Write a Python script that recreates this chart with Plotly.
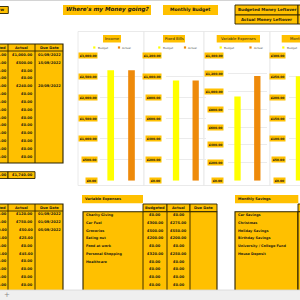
import plotly.graph_objects as go

# ---------------- data ----------------
categories = ["Budget", "Actual"]
income = [2640, 2640]
fixed_bills = [960, 960]
variable_expenses = [940, 1170]
monthly_savings = [250, 270]

income_ticks = [0, 500, 1000, 1500, 2000, 2500, 3000]
fixed_ticks = [0, 200, 400, 600, 800, 1000, 1200]
variable_ticks = [0, 200, 400, 600, 800, 1000, 1200, 1400]
savings_ticks = [0, 50, 100, 150, 200, 250, 300]

bills_budgeted = [1000, 500, 0, 0, 240, 0, 0, 0, 0, 0, 0, 0, 0, 0]
bills_actual = [1000, 500, 0, 0, 240, 0, 0, 0, 0, 0, 0, 0, 0, 0]
bills_due = ["01/09/2022", "15/09/2022", "", "", "20/09/2022", "", "", "", "", "", "", "", "", ""]

debts_budgeted = [120, 750, 50, 25, 0, 45, 0, 0, 0, 0]
debts_actual = [120, 750, 50, 25, 0, 45, 0, 0, 0, 0]
debts_due = ["01/09/2022", "01/09/2022", "05/09/2022", "", "", "", "", "", "", ""]

var_labels = ["Charity Giving", "Car Fuel", "Groceries", "Eating out", "Food at work",
              "Personal Shopping", "Healthcare", "", "", ""]
var_budgeted = [0, 300, 500, 200, 0, 320, 0, 0, 0, 0]
var_actual = [0, 275, 550, 200, 0, 250, 0, 0, 0, 0]

sav_labels = ["Car Savings", "Christmas", "Holiday Savings", "Birthday Savings",
              "University / College Fund", "House Deposit"]

# ---------------- style ----------------
W = H = 300
GOLD = "#FFC000"
YEL = "#FFFF00"
ORG = "#EE8A0A"
DARK = "#1e1a10"
BORDER = "#2a2200"
FONT = "DejaVu Sans"

shapes = []
anns = []


def money(v):
    return f"£{v:,.2f}"


def rect(x0, y0, x1, y1, fill=None, line=None, lw=0.9, layer="above"):
    shapes.append(dict(type="rect", xref="paper", yref="paper",
                       x0=x0 / W, x1=x1 / W, y0=1 - y1 / H, y1=1 - y0 / H,
                       fillcolor=fill or "rgba(0,0,0,0)",
                       line=dict(color=line or "rgba(0,0,0,0)", width=lw if line else 0),
                       layer=layer))


def seg(x0, y0, x1, y1, color=BORDER, lw=0.9, layer="above"):
    shapes.append(dict(type="line", xref="paper", yref="paper",
                       x0=x0 / W, x1=x1 / W, y0=1 - y0 / H, y1=1 - y1 / H,
                       line=dict(color=color, width=lw), layer=layer))


def txt(x, y, s, size, anchor="center", color=DARK, bold=True, italic=False):
    if bold:
        s = f"<b>{s}</b>"
    if italic:
        s = f"<i>{s}</i>"
    anns.append(dict(x=x / W, y=1 - y / H, xref="paper", yref="paper", text=s,
                     showarrow=False, xanchor=anchor, yanchor="middle",
                     font=dict(family=FONT, size=size, color=color), borderpad=0))


# ---------------- sheet background ----------------
seg(0, 0.5, 300, 0.5, "#d4d4d4", 1)

# top boxes
rect(-2, 6.5, 8.3, 13.5, GOLD, BORDER)
txt(5, 10, "Overview", 4.2, "right")
rect(63, 5, 151, 15, GOLD)
txt(107, 10, "Where's my Money going?", 5.6, "center", italic=True)
rect(163, 5, 218, 15, GOLD)
txt(190, 10, "Monthly Budget", 4.5)
rect(235, 5, 298, 15, GOLD, BORDER)
rect(235, 15, 298, 24, GOLD, BORDER)
rect(298, 5, 330, 15, GOLD, BORDER)
rect(298, 15, 330, 24, GOLD, BORDER)
txt(266.5, 10, "Budgeted Money Leftover", 4.0)
txt(266.5, 19.5, "Actual Money Leftover", 4.0)

# ---------------- left upper table ----------------
TS = 3.6
rect(-2, 44, 63, 163, GOLD, BORDER, 1.1)
seg(-2, 51, 63, 51)
seg(8, 44, 8, 163)
seg(35, 44, 35, 163)
txt(6.5, 47.7, "Budgeted", TS, "right")
txt(21.5, 47.7, "Actual", TS)
txt(49, 47.7, "Due Date", TS)
for i in range(len(bills_actual)):
    y = 55 + 7.82 * i
    txt(7.5, y, money(bills_budgeted[i]), TS, "right")
    txt(33.5, y, money(bills_actual[i]), TS, "right")
    if bills_due[i]:
        txt(62, y, bills_due[i], TS, "right")
rect(-2, 171.7, 8, 178.5, GOLD, BORDER)
rect(8, 171.7, 35, 178.5, GOLD, BORDER)
txt(7.5, 175.1, money(sum(bills_budgeted)), TS, "right")
txt(33.5, 175.1, money(sum(bills_actual)), TS, "right")

# ---------------- left lower table ----------------
rect(-2, 204, 63, 293, GOLD, BORDER, 1.1)
seg(-2, 211, 63, 211)
seg(8, 204, 8, 293)
seg(35, 204, 35, 293)
txt(6.5, 207.5, "Budgeted", TS, "right")
txt(21.5, 207.5, "Actual", TS)
txt(49, 207.5, "Due Date", TS)
for i in range(len(debts_actual)):
    y = 214.3 + 7.86 * i
    txt(7.5, y, money(debts_budgeted[i]), TS, "right")
    txt(33.5, y, money(debts_actual[i]), TS, "right")
    if debts_due[i]:
        txt(62, y, debts_due[i], TS, "right")

# ---------------- variable expenses table ----------------
rect(82, 195, 143, 203.3, GOLD)
txt(84, 199.2, "Variable Expenses", 3.5, "left")
for (a, b, lab) in [(143, 167, "Budgeted"), (167, 190, "Actual"), (190, 217, "Due Date")]:
    rect(a, 204, b, 211.7, GOLD, BORDER)
    txt((a + b) / 2, 207.9, lab, TS)
rect(83, 211.7, 217, 293, GOLD, BORDER, 1.1)
for xx in (143, 167, 190):
    seg(xx, 211.7, xx, 293)
for i in range(len(var_labels)):
    y = 215 + 7.78 * i
    if var_labels[i]:
        txt(85, y, var_labels[i], 3.4, "left")
    txt(155, y, money(var_budgeted[i]), TS)
    txt(178.5, y, money(var_actual[i]), TS)

# ---------------- monthly savings table ----------------
rect(235, 195, 298.3, 203.3, GOLD)
txt(237, 199.2, "Monthly Savings", 3.5, "left")
rect(298, 204, 330, 211.7, GOLD, BORDER)
rect(235, 211.7, 298, 293, GOLD, BORDER, 1.1)
rect(298, 211.7, 330, 293, GOLD, BORDER, 1.1)
for i, lab in enumerate(sav_labels):
    txt(237, 215 + 7.78 * i, lab, 3.4, "left")

# bottom sheet-tab bar
rect(-1, 290, 301, 301, "#efefef", "#d8d8d8", 0.8)
txt(7, 295, "+", 7, "center", color="#888888", bold=False)

# ---------------- charts ----------------
charts = [
    ("Income", income, income_ticks, (78, 144), (100.3, 141.9), 97.7, (103, 121), (94.3, 119)),
    ("Fixed Bills", fixed_bills, fixed_ticks, (144, 204), (166.2, 205.5), 161.7, (163, 185), (159.3, 185)),
    ("Variable Expenses", variable_expenses, variable_ticks, (204, 270), (227.6, 267.2), 224.0, (216.7, 260), (220.7, 250.5)),
    ("Monthly Savings", monthly_savings, savings_ticks, (270, 340), (289, 300), 286.0, (281.7, 330), (283.3, 309)),
]

fig = go.Figure()
layout_axes = {}
PLOT_TOP, PLOT_BOT = 55.3, 180.8

for k, (title, vals, ticks, frame, dom, lab_r, tbox, legx) in enumerate(charts):
    s = "" if k == 0 else str(k + 1)
    rect(frame[0], 31.5, frame[1], 185.5, "white", "#e4e4e4", 0.8, layer="below")
    rect(tbox[0], 35, tbox[1], 42.5, GOLD)
    txt((tbox[0] + tbox[1]) / 2, 38.8, title, 3.8, bold=False)
    for j, (lx, col) in enumerate(zip(legx, [YEL, ORG])):
        rect(lx - 1.1, 46.4, lx + 1.1, 48.6, col)
        txt(lx + 2.3, 47.6, categories[j], 2.8, "left", color="#555555", bold=False)
    for j, col in enumerate([YEL, ORG]):
        fig.add_trace(go.Bar(x=[categories[j]], y=[vals[j]], marker=dict(color=col, line=dict(width=0)),
                             width=0.32, xaxis="x" + s, yaxis="y" + s, showlegend=False,
                             name=categories[j]))
    xdom = [dom[0] / W, min(dom[1] / W, 1.0)]
    if dom[1] <= W:
        xr = [-0.5, 1.5]
    else:
        xr = [-0.5, -0.5 + (dom[1] - dom[0]) / 20.0]
    if k == 3:
        xr = [-0.5, -0.5 + (300 - 289) / 20.0]
    layout_axes["xaxis" + s] = dict(domain=xdom, anchor="y" + s, type="category",
                                    categoryorder="array", categoryarray=categories,
                                    range=xr, showticklabels=False, showgrid=False,
                                    zeroline=False, showline=False, ticks="")
    layout_axes["yaxis" + s] = dict(domain=[1 - PLOT_BOT / H, 1 - PLOT_TOP / H], anchor="x" + s,
                                    range=[0, ticks[-1]], tickvals=ticks, showticklabels=False,
                                    showgrid=True, gridcolor="#ebebeb", gridwidth=0.6,
                                    zeroline=False, showline=False, ticks="")
    for t in ticks:
        anns.append(dict(x=lab_r / W, xref="paper", y=t, yref="y" + s, text=f"<b>{money(t)}</b>",
                         showarrow=False, xanchor="right", yanchor="middle", bgcolor=GOLD,
                         borderpad=0.7, font=dict(family=FONT, size=3.0, color=DARK)))

fig.update_layout(
    width=W, height=H, margin=dict(l=0, r=0, t=0, b=0),
    paper_bgcolor="white", plot_bgcolor="rgba(0,0,0,0)",
    barmode="overlay", showlegend=False,
    shapes=shapes, annotations=anns, **layout_axes,
)

fig.write_html("out.html")
